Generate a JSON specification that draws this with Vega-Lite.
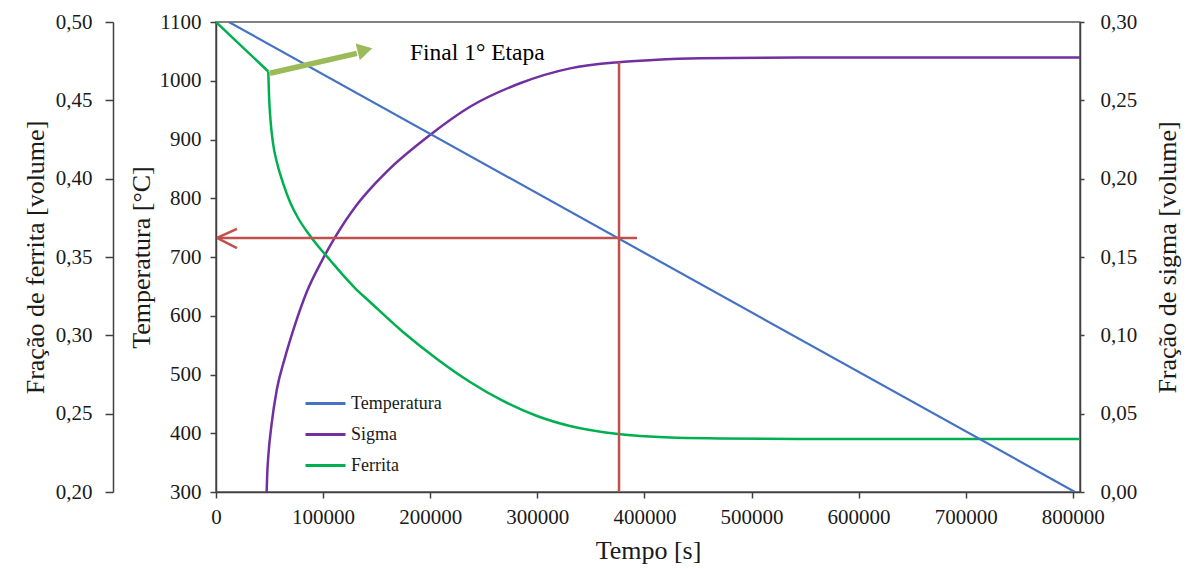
{
  "$schema": "https://vega.github.io/schema/vega-lite/v6.json",
  "width": 864,
  "height": 470,
  "autosize": "none",
  "padding": {"left": 216, "top": 22, "right": 108, "bottom": 77},
  "background": "white",
  "datasets": {
    "temperatura": [
      {"t": 12000, "v": 1100},
      {"t": 802000, "v": 300}
    ],
    "sigma": [
      {"t": 47300, "v": 0},
      {"t": 47800, "v": 0.0109},
      {"t": 48800, "v": 0.0225},
      {"t": 52000, "v": 0.0438},
      {"t": 56700, "v": 0.0651},
      {"t": 64400, "v": 0.0858},
      {"t": 73800, "v": 0.1069},
      {"t": 84700, "v": 0.1277},
      {"t": 98700, "v": 0.1474},
      {"t": 111100, "v": 0.1625},
      {"t": 129800, "v": 0.1818},
      {"t": 148500, "v": 0.1968},
      {"t": 160900, "v": 0.2055},
      {"t": 199800, "v": 0.2279},
      {"t": 237200, "v": 0.2459},
      {"t": 283900, "v": 0.2609},
      {"t": 330600, "v": 0.2704},
      {"t": 375600, "v": 0.2743},
      {"t": 408000, "v": 0.2757},
      {"t": 451900, "v": 0.2768},
      {"t": 545300, "v": 0.2773},
      {"t": 806700, "v": 0.2773}
    ],
    "ferrita_inicio": [
      {"t": 0, "v": 0.5},
      {"t": 48800, "v": 0.4684}
    ],
    "ferrita": [
      {"t": 48800, "v": 0.4684},
      {"t": 49500, "v": 0.4534},
      {"t": 50900, "v": 0.4374},
      {"t": 53200, "v": 0.4228},
      {"t": 57000, "v": 0.41},
      {"t": 62600, "v": 0.3972},
      {"t": 69100, "v": 0.3851},
      {"t": 76600, "v": 0.3749},
      {"t": 85900, "v": 0.3653},
      {"t": 95200, "v": 0.357},
      {"t": 106400, "v": 0.3481},
      {"t": 117600, "v": 0.3392},
      {"t": 129800, "v": 0.3302},
      {"t": 143800, "v": 0.3213},
      {"t": 174600, "v": 0.3021},
      {"t": 206300, "v": 0.2849},
      {"t": 237200, "v": 0.2702},
      {"t": 268000, "v": 0.2581},
      {"t": 299700, "v": 0.2485},
      {"t": 330500, "v": 0.2421},
      {"t": 375300, "v": 0.237},
      {"t": 423900, "v": 0.2348},
      {"t": 470600, "v": 0.2342},
      {"t": 545300, "v": 0.2338},
      {"t": 806700, "v": 0.2338}
    ],
    "linhas": [
      {"t": 376300, "t2": 376300, "v": 300, "v2": 1032},
      {"t": 1870, "t2": 393100, "v": 732.4, "v2": 732.4},
      {"t": 934, "t2": 19600, "v": 732.4, "v2": 747.7},
      {"t": 934, "t2": 19600, "v": 732.4, "v2": 715.3}
    ],
    "seta": [
      {"t": 50400, "t2": 131500, "v": 1012.7, "v2": 1046.7}
    ],
    "ponta": [
      {"t": 139100, "v": 1052.3}
    ],
    "rotulo": [
      {"t": 181100, "v": 1035, "label": "Final 1° Etapa"}
    ]
  },
  "encoding": {
    "x": {
      "field": "t",
      "type": "quantitative",
      "scale": {"domain": [0, 806700], "nice": false, "zero": false},
      "axis": {
        "title": "Tempo [s]",
        "values": [0, 100000, 200000, 300000, 400000, 500000, 600000, 700000, 800000],
        "format": "d",
        "tickSize": 6,
        "labelPadding": 8,
        "titlePadding": 10,
        "labelFlush": false,
        "labelOverlap": false
      }
    }
  },
  "layer": [
    {
      "data": {"name": "sigma"},
      "mark": {"type": "line", "strokeWidth": 2.5, "clip": true, "interpolate": "monotone"},
      "encoding": {
        "y": {
          "field": "v",
          "type": "quantitative",
          "scale": {"domain": [0, 0.3], "nice": false, "zero": false},
          "axis": {
            "orient": "right",
            "title": "Fração de sigma [volume]",
            "values": [0, 0.05, 0.1, 0.15, 0.2, 0.25, 0.3],
            "labelExpr": "replace(format(datum.value, '.2f'), '.', ',')",
            "tickSize": 4,
            "labelPadding": 16,
            "titleAngle": -90,
            "titleBaseline": "top",
            "titlePadding": 18,
            "labelFlush": false,
            "labelOverlap": false
          }
        },
        "color": {
          "datum": "Sigma",
          "type": "nominal",
          "scale": {"domain": ["Temperatura", "Sigma", "Ferrita"], "range": ["#4472C4", "#7030A0", "#00B050"]},
          "legend": {
            "title": null,
            "orient": "none",
            "legendX": 88,
            "legendY": 360,
            "symbolType": "stroke",
            "symbolStrokeWidth": 3,
            "symbolSize": 1600,
            "labelFont": "Times New Roman, Liberation Serif, serif",
            "labelFontSize": 18,
            "labelColor": "#1a1a1a",
            "labelOffset": 4,
            "rowPadding": -7,
            "padding": 0
          }
        }
      }
    },
    {
      "encoding": {
        "y": {
          "field": "v",
          "type": "quantitative",
          "scale": {"domain": [0.2, 0.5], "nice": false, "zero": false},
          "axis": {
            "orient": "left",
            "offset": 103,
            "title": "Fração de ferrita [volume]",
            "values": [0.2, 0.25, 0.3, 0.35, 0.4, 0.45, 0.5],
            "labelExpr": "replace(format(datum.value, '.2f'), '.', ',')",
            "tickSize": 8,
            "labelPadding": 13,
            "titlePadding": 7,
            "labelFlush": false,
            "labelOverlap": false
          }
        },
        "color": {"datum": "Ferrita", "type": "nominal"}
      },
      "layer": [
        {
          "data": {"name": "ferrita_inicio"},
          "mark": {"type": "line", "strokeWidth": 2.5, "clip": true, "strokeJoin": "miter"}
        },
        {
          "data": {"name": "ferrita"},
          "mark": {"type": "line", "strokeWidth": 2.5, "clip": true, "interpolate": "monotone"}
        }
      ]
    },
    {
      "encoding": {
        "y": {
          "field": "v",
          "type": "quantitative",
          "scale": {"domain": [300, 1100], "nice": false, "zero": false},
          "axis": {
            "orient": "left",
            "title": "Temperatura  [°C]",
            "values": [300, 400, 500, 600, 700, 800, 900, 1000, 1100],
            "format": "d",
            "tickSize": 6,
            "labelPadding": 9,
            "titlePadding": 5,
            "labelFlush": false,
            "labelOverlap": false
          }
        }
      },
      "layer": [
        {
          "data": {"name": "temperatura"},
          "mark": {"type": "line", "strokeWidth": 2.2, "clip": true},
          "encoding": {"color": {"datum": "Temperatura", "type": "nominal"}}
        },
        {
          "data": {"name": "linhas"},
          "mark": {"type": "rule", "color": "#C0504D", "strokeWidth": 2.5},
          "encoding": {
            "x2": {"field": "t2"},
            "y2": {"field": "v2"}
          }
        },
        {
          "data": {"name": "seta"},
          "mark": {"type": "rule", "color": "#9BBB59", "strokeWidth": 5.5},
          "encoding": {
            "x2": {"field": "t2"},
            "y2": {"field": "v2"}
          }
        },
        {
          "data": {"name": "ponta"},
          "mark": {"type": "point", "shape": "triangle-right", "filled": true, "color": "#9BBB59", "opacity": 1, "size": 300, "angle": 346}
        },
        {
          "data": {"name": "rotulo"},
          "mark": {"type": "text", "align": "left", "baseline": "alphabetic", "font": "Times New Roman, Liberation Serif, serif", "fontSize": 23.5, "color": "#000000"},
          "encoding": {"text": {"field": "label"}}
        }
      ]
    }
  ],
  "resolve": {"scale": {"y": "independent"}},
  "config": {
    "view": {"stroke": "#595959", "strokeWidth": 1.5},
    "axis": {
      "labelFont": "Times New Roman, Liberation Serif, serif",
      "titleFont": "Times New Roman, Liberation Serif, serif",
      "labelFontSize": 21,
      "titleFontSize": 26,
      "titleFontWeight": "normal",
      "labelColor": "#1a1a1a",
      "titleColor": "#1a1a1a",
      "domainColor": "#404040",
      "tickColor": "#404040",
      "domainWidth": 1.5,
      "tickWidth": 1.5,
      "grid": false
    }
  }
}
